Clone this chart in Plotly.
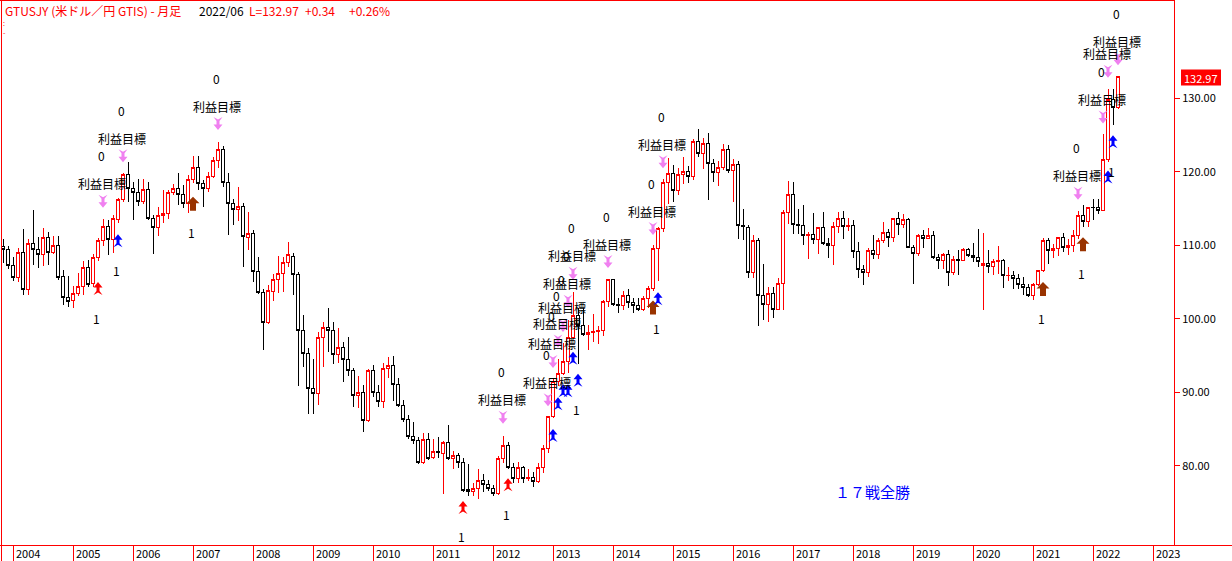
import pandas as pd
import plotly.graph_objects as go

# monthly candles GTUSJY, 2003/11 .. 2022/06
start_month = "2003-11"
end_month = "2022-06"

opens = [
    109.8, 109.5,
    107.2, 105.6, 109.0, 104.0, 110.2, 109.5, 108.7, 111.0, 109.0, 110.0, 105.7, 102.9,
    102.5, 103.5, 104.4, 107.0, 104.8, 108.3, 110.6, 112.5, 110.8, 113.5, 116.2, 119.6,
    117.8, 117.2, 115.9, 117.6, 113.6, 112.4, 114.1, 114.4, 117.2, 117.8, 116.9, 115.7,
    118.9, 120.6, 118.4, 117.7, 119.4, 121.6, 123.1, 118.5, 115.7, 114.9, 115.3, 111.0,
    111.6, 106.4, 103.6, 99.5, 103.7, 105.4, 106.1, 107.7, 108.5, 106.0, 98.4, 95.3,
    90.5, 89.8, 97.5, 98.8, 98.4, 95.2, 96.1, 94.5, 93.0, 89.6, 90.0, 86.2,
    92.9, 89.9, 88.8, 93.2, 93.7, 91.1, 88.2, 86.3, 84.0, 83.4, 80.4, 83.5,
    81.1, 81.9, 81.7, 83.1, 81.0, 81.4, 80.4, 76.7, 76.5, 76.9, 78.0, 77.5,
    76.9, 76.2, 81.0, 82.8, 79.7, 78.2, 79.7, 78.2, 78.4, 77.9, 79.7, 82.4,
    86.7, 91.5, 92.5, 94.2, 97.5, 100.5, 99.1, 97.9, 98.1, 98.3, 98.4, 102.4,
    105.3, 102.0, 101.8, 103.2, 102.2, 101.8, 101.3, 102.8, 104.1, 109.6, 112.3, 118.6,
    119.8, 117.5, 119.6, 120.1, 119.4, 124.1, 122.5, 123.9, 121.2, 119.9, 120.6, 123.1,
    120.2, 121.0, 112.7, 112.4, 106.3, 110.7, 103.2, 102.0, 103.4, 101.3, 104.8, 114.5,
    116.9, 112.8, 112.7, 111.4, 111.5, 110.8, 112.4, 110.3, 110.0, 112.5, 113.6, 112.5,
    112.7, 109.2, 106.7, 106.3, 109.3, 108.8, 110.7, 111.8, 111.0, 113.7, 112.9, 113.5,
    109.7, 108.9, 111.4, 110.9, 111.4, 108.3, 107.9, 108.7, 106.3, 108.1, 108.0, 109.5,
    108.6, 108.4, 107.3, 107.5, 107.1, 107.8, 107.9, 105.85, 105.9, 105.5, 104.6, 104.3,
    103.2, 104.7, 106.6, 110.7, 109.3, 109.6, 111.0, 109.7, 110.0, 111.3, 114.0, 113.2,
    115.15, 115.1, 114.8, 121.7, 129.8, 128.7,
]
highs = [
    110.8, 109.9,
    108.4, 109.7, 112.2, 110.8, 114.8, 111.2, 112.3, 111.8, 111.3, 111.3, 106.6, 105.8,
    104.5, 106.2, 107.9, 108.0, 108.8, 111.0, 113.6, 113.4, 114.1, 116.4, 119.9, 121.4,
    118.6, 119.0, 119.0, 118.6, 114.1, 115.2, 117.5, 117.5, 118.4, 119.9, 118.2, 119.6,
    122.2, 122.2, 118.9, 120.0, 122.0, 124.1, 123.5, 119.8, 116.3, 117.9, 115.7, 114.6,
    112.1, 108.4, 104.0, 104.6, 106.1, 108.5, 108.4, 110.5, 109.0, 106.4, 100.5, 96.0,
    94.5, 98.2, 99.6, 101.4, 99.5, 98.8, 96.9, 97.5, 93.3, 92.2, 91.0, 93.1,
    93.7, 91.0, 94.0, 94.8, 94.9, 92.0, 89.0, 86.9, 85.9, 83.9, 84.4, 84.4,
    83.6, 83.9, 83.3, 85.5, 82.0, 81.7, 81.0, 80.2, 77.6, 79.5, 78.9, 78.1,
    77.4, 81.3, 84.1, 83.2, 80.4, 80.5, 79.9, 79.6, 79.2, 80.4, 82.8, 86.8,
    91.8, 94.5, 96.7, 99.9, 103.7, 101.5, 101.5, 99.2, 100.6, 99.0, 102.6, 105.4,
    105.4, 102.8, 103.8, 104.1, 102.8, 102.8, 103.1, 104.5, 110.1, 112.5, 119.0, 121.85,
    121.0, 120.5, 122.0, 120.8, 124.5, 125.9, 124.6, 125.3, 121.7, 121.5, 123.8, 123.7,
    121.7, 121.5, 114.9, 112.7, 111.4, 111.0, 107.5, 104.3, 104.3, 105.5, 114.8, 118.7,
    118.6, 115.0, 115.5, 111.8, 114.4, 112.5, 114.5, 111.0, 113.2, 114.5, 114.7, 113.75,
    113.4, 110.5, 107.3, 109.6, 111.4, 111.0, 113.2, 112.2, 113.7, 114.55, 114.2, 113.7,
    110.0, 111.5, 112.1, 112.4, 112.0, 108.8, 109.0, 109.3, 108.5, 109.3, 109.7, 109.7,
    110.3, 112.2, 111.7, 109.4, 108.1, 109.85, 108.2, 107.05, 106.55, 106.1, 105.7, 104.75,
    104.9, 106.7, 110.97, 110.97, 110.2, 111.1, 111.7, 110.8, 112.1, 114.7, 115.5, 115.2,
    116.35, 116.3, 125.1, 131.25, 131.35, 133.1,
]
lows = [
    107.6, 106.8,
    105.1, 105.0, 103.2, 103.3, 107.3, 106.9, 107.2, 107.3, 108.8, 105.3, 101.9, 101.6,
    101.4, 103.1, 103.2, 104.3, 104.3, 107.9, 109.9, 108.7, 109.0, 113.0, 115.9, 115.9,
    113.4, 115.3, 115.6, 113.5, 108.8, 111.3, 113.1, 113.6, 116.8, 115.5, 115.1, 114.4,
    118.5, 117.6, 115.2, 117.2, 119.1, 120.5, 118.0, 111.4, 112.8, 113.3, 107.0, 109.4,
    105.0, 103.4, 95.8, 99.3, 102.4, 103.5, 103.6, 107.1, 103.3, 90.8, 93.4, 87.1,
    87.1, 88.3, 93.4, 95.5, 93.9, 94.0, 91.4, 92.2, 88.0, 87.8, 84.6, 86.0,
    89.3, 88.0, 87.9, 92.0, 88.8, 88.0, 85.9, 83.6, 82.9, 80.2, 80.2, 80.8,
    80.9, 81.0, 76.2, 80.8, 79.6, 79.7, 76.4, 75.9, 75.9, 75.5, 76.4, 76.6,
    75.9, 76.0, 80.4, 79.5, 77.7, 77.6, 77.6, 77.9, 77.1, 77.6, 79.0, 81.7,
    86.5, 90.9, 92.4, 92.6, 97.3, 93.8, 97.6, 95.8, 96.9, 96.6, 97.6, 101.6,
    101.8, 100.8, 101.2, 101.4, 100.8, 101.1, 101.1, 101.5, 103.8, 105.2, 111.8, 115.6,
    115.9, 116.9, 118.3, 118.5, 118.9, 122.0, 120.4, 116.2, 118.6, 118.1, 120.2, 119.9,
    115.9, 110.9, 110.7, 105.5, 105.5, 99.0, 99.9, 99.5, 100.1, 101.2, 101.2, 112.9,
    111.6, 111.6, 110.1, 108.1, 110.2, 108.8, 110.0, 108.3, 107.3, 111.7, 110.8, 111.9,
    108.3, 105.6, 104.6, 105.7, 108.1, 108.1, 110.3, 109.8, 110.4, 111.4, 112.3, 109.6,
    104.7, 108.5, 109.7, 110.8, 108.2, 106.8, 106.8, 104.5, 105.9, 105.9, 107.9, 108.4,
    107.7, 107.0, 101.2, 106.3, 106.0, 106.1, 104.2, 105.1, 104.0, 104.0, 103.2, 102.9,
    102.6, 104.4, 106.4, 107.5, 108.3, 108.6, 109.1, 108.7, 109.1, 110.8, 112.5, 112.5,
    113.5, 114.2, 114.65, 121.3, 126.4, 128.6,
]
closes = [
    109.5, 107.2,
    105.6, 109.0, 104.0, 110.2, 109.5, 108.7, 111.1, 109.0, 110.0, 105.6, 102.9, 102.4,
    103.5, 104.4, 107.0, 104.6, 108.3, 110.6, 112.5, 110.8, 113.6, 116.2, 119.6, 117.7,
    117.2, 115.9, 117.6, 113.6, 112.4, 114.1, 114.4, 117.2, 117.8, 116.9, 115.7, 118.9,
    120.6, 118.4, 117.7, 119.4, 121.6, 123.1, 118.5, 115.7, 114.9, 115.3, 111.2, 111.6,
    106.4, 103.6, 99.5, 103.8, 105.4, 106.1, 107.7, 108.7, 106.0, 98.4, 95.3, 90.5,
    89.8, 97.5, 98.8, 98.4, 95.2, 96.1, 94.5, 93.0, 89.6, 90.0, 86.2, 92.9,
    90.0, 88.8, 93.2, 93.7, 91.1, 88.2, 86.3, 84.0, 83.4, 80.4, 83.5, 81.0,
    81.9, 81.8, 83.1, 81.0, 81.4, 80.4, 76.6, 76.5, 76.9, 78.0, 77.5, 76.9,
    76.2, 81.0, 82.8, 79.7, 78.2, 79.7, 78.2, 78.4, 77.9, 79.7, 82.4, 86.7,
    91.5, 92.5, 94.2, 97.5, 100.5, 99.1, 97.9, 98.1, 98.3, 98.4, 102.4, 105.3,
    102.0, 101.8, 103.2, 102.2, 101.8, 101.3, 102.8, 104.1, 109.6, 112.3, 118.6, 119.8,
    117.5, 119.6, 120.1, 119.4, 124.1, 122.5, 123.9, 121.2, 119.9, 120.6, 123.1, 120.2,
    121.0, 112.7, 112.5, 106.3, 110.7, 103.2, 102.0, 103.4, 101.3, 104.8, 114.5, 116.9,
    112.8, 112.7, 111.4, 111.5, 110.8, 112.4, 110.3, 110.0, 112.5, 113.6, 112.5, 112.7,
    109.2, 106.7, 106.3, 109.3, 108.8, 110.7, 111.8, 111.0, 113.7, 112.9, 113.5, 109.7,
    108.9, 111.4, 110.9, 111.4, 108.3, 107.9, 108.7, 106.3, 108.1, 108.0, 109.5, 108.6,
    108.4, 107.8, 107.5, 107.1, 107.8, 107.9, 105.9, 105.9, 105.5, 104.6, 104.3, 103.2,
    104.7, 106.6, 110.7, 109.3, 109.6, 111.0, 109.7, 110.0, 111.3, 114.0, 113.2, 115.1,
    115.1, 114.8, 121.7, 129.8, 128.7, 132.97,
]

# entry signals (up arrows) and take-profit signals (down arrows)
entry_months = ["2005-06", "2005-10", "2007-01", "2011-07", "2012-04", "2013-01",
                "2013-02", "2013-03", "2013-04", "2013-05", "2013-06", "2014-09",
                "2014-10", "2021-03", "2021-11", "2022-04", "2022-05"]
entry_prices = [105.0, 111.5, 116.6, 75.2, 78.3, 85.0, 89.3, 91.1, 91.1, 95.5,
                92.5, 102.5, 103.6, 105.0, 111.1, 120.2, 125.0]
entry_kinds = ["red", "blue", "brown", "red", "red", "blue", "blue", "blue", "blue",
               "blue", "blue", "brown", "blue", "brown", "brown", "blue", "blue"]
entry_counts = ["1", "1", "1", "1", "1", "", "", "", "", "", "1", "", "1", "1", "1", "", "1"]

tp_months = ["2005-07", "2005-11", "2007-06", "2012-03", "2012-12", "2013-01",
             "2013-02", "2013-03", "2013-04", "2013-05", "2013-12", "2014-09",
             "2014-11", "2021-10", "2022-03", "2022-04", "2022-06"]
tp_prices = [115.1, 121.3, 125.7, 85.7, 88.1, 93.3, 96.1, 98.2, 101.5, 105.3,
             106.9, 111.4, 120.5, 116.2, 126.6, 132.8, 134.5]
tp_counts = ["0"] * 15 + ["", "0"]
tp_label = "利益目標"

years = list(range(2004, 2024))
price_ticks = [80, 90, 100, 110, 120, 130]
last_price = 132.97
summary_text = "１７戦全勝"

title_parts = [
    ("GTUSJY (米ドル／円 GTIS) - 月足", 3, "#FF0000"),
    ("2022/06", 197, "black"),
    ("L=132.97", 247, "#FF0000"),
    ("+0.34", 303, "#FF0000"),
    ("+0.26%", 347, "#FF0000"),
]

# ---- layout geometry ----
W, H = 1232, 561
ML, MR, MT, MB = 2, 58, 0, 16
PW, PH = W - ML - MR, H - MT - MB
RED = "#FF0000"
FONT = "Noto Sans CJK JP"

COLORS = {"red": "#FF0000", "blue": "#0000FF", "brown": "#993300", "pink": "#F080F0"}

ARROW_UP = ("M0,0 L4.5,-5.5 L1.5,-5.5 L1.5,-9 L4.5,-13 L0,-10.5 L-4.5,-13 "
            "L-1.5,-9 L-1.5,-5.5 L-4.5,-5.5 Z")
ARROW_DOWN = ("M0,0 L4.5,5.5 L1.5,5.5 L1.5,9 L4.5,13 L0,10.5 L-4.5,13 "
              "L-1.5,9 L-1.5,5.5 L-4.5,5.5 Z")
ARROW_BIG = "M0,0 L6.5,-6.5 L3,-6.5 L3,-14 L-3,-14 L-3,-6.5 L-6.5,-6.5 Z"


def paper_x(px):
    return (px - ML) / PW


def paper_y(py):
    return 1 - (py - MT) / PH


months = pd.period_range(start_month, end_month, freq="M")
first = months[0]


def month_pos(label):
    return (pd.Period(label, freq="M") - first).n


idx = list(range(len(months)))
year_pos = [month_pos(f"{y}-01") for y in years]

fig = go.Figure()
fig.add_trace(
    go.Candlestick(
        x=idx,
        open=opens,
        high=highs,
        low=lows,
        close=closes,
        increasing=dict(line=dict(color=RED, width=1), fillcolor="white"),
        decreasing=dict(line=dict(color="black", width=1), fillcolor="white"),
        whiskerwidth=0,
        showlegend=False,
        hoverinfo="skip",
    )
)

shapes = []
annotations = []

# entries
for m, p, kind, cnt in zip(entry_months, entry_prices, entry_kinds, entry_counts):
    i = month_pos(m)
    shapes.append(dict(
        type="path", xref="x", yref="y", xsizemode="pixel", ysizemode="pixel",
        xanchor=i, yanchor=p, path=ARROW_BIG if kind == "brown" else ARROW_UP,
        fillcolor=COLORS[kind], line=dict(width=0), layer="above",
    ))
    if cnt:
        annotations.append(dict(
            x=i, y=p, xref="x", yref="y", text=cnt, showarrow=False,
            xanchor="center", yanchor="middle",
            xshift=-1.5, yshift=-36, font=dict(family=FONT, size=12, color="black"),
        ))

# take profits
for m, p, cnt in zip(tp_months, tp_prices, tp_counts):
    i = month_pos(m)
    shapes.append(dict(
        type="path", xref="x", yref="y", xsizemode="pixel", ysizemode="pixel",
        xanchor=i, yanchor=p, path=ARROW_DOWN,
        fillcolor=COLORS["pink"], line=dict(width=0), layer="above",
    ))
    annotations.append(dict(
        x=i, y=p, xref="x", yref="y", text=tp_label, showarrow=False,
        xanchor="center", yanchor="middle",
        xshift=-1.5, yshift=24, font=dict(family=FONT, size=12, color="black"),
    ))
    if cnt:
        annotations.append(dict(
            x=i, y=p, xref="x", yref="y", text=cnt, showarrow=False,
            xanchor="center", yanchor="middle",
            xshift=-1.5, yshift=52, font=dict(family=FONT, size=12, color="black"),
        ))

# year labels to the right of the red ticks
for y, pos in zip(years, year_pos):
    annotations.append(dict(
        x=pos, y=0, xref="x", yref="paper", text=str(y), showarrow=False,
        xanchor="left", yanchor="middle", xshift=1, yshift=-8,
        font=dict(family=FONT, size=11, color="black"),
    ))

# title line
for text, px, color in title_parts:
    annotations.append(dict(
        x=paper_x(px), y=paper_y(10), xref="paper", yref="paper", text=text,
        showarrow=False, xanchor="left", yanchor="middle",
        font=dict(family=FONT, size=12, color=color),
    ))
# two small red marks under the title
annotations.append(dict(x=paper_x(2), y=paper_y(23), xref="paper", yref="paper", text=":",
                        showarrow=False, xanchor="left", yanchor="middle", borderpad=0,
                        font=dict(family=FONT, size=7, color=RED)))
annotations.append(dict(x=paper_x(2), y=paper_y(32), xref="paper", yref="paper", text="-",
                        showarrow=False, xanchor="left", yanchor="middle", borderpad=0,
                        font=dict(family=FONT, size=7, color=RED)))

# summary text
annotations.append(dict(
    x=paper_x(872), y=paper_y(491), xref="paper", yref="paper", text=summary_text,
    showarrow=False, xanchor="center", yanchor="middle",
    font=dict(family=FONT, size=15, color="#0000FF"),
))

# last price box on the axis
shapes.append(dict(
    type="rect", xref="paper", yref="y", ysizemode="pixel", yanchor=last_price,
    x0=paper_x(1181), x1=paper_x(1221), y0=-9, y1=7,
    fillcolor=RED, line=dict(width=0), layer="above",
))
annotations.append(dict(
    x=paper_x(1201), y=last_price, xref="paper", yref="y", text=f"{last_price:.2f}",
    showarrow=False, xanchor="center", yanchor="middle", yshift=-1,
    font=dict(family=FONT, size=11, color="white"),
))

# frame lines
shapes += [
    dict(type="line", xref="paper", yref="paper", x0=paper_x(0), x1=paper_x(W),
         y0=paper_y(545.5), y1=paper_y(545.5), line=dict(color=RED, width=1)),
    dict(type="line", xref="paper", yref="paper", x0=paper_x(1.5), x1=paper_x(1.5),
         y0=paper_y(0), y1=paper_y(H), line=dict(color=RED, width=1)),
    dict(type="line", xref="paper", yref="paper", x0=paper_x(0), x1=paper_x(1174),
         y0=paper_y(0.5), y1=paper_y(0.5), line=dict(color=RED, width=1)),
]

fig.update_layout(
    width=W,
    height=H,
    margin=dict(l=ML, r=MR, t=MT, b=MB, pad=0),
    paper_bgcolor="white",
    plot_bgcolor="white",
    showlegend=False,
    boxgap=0.4,
    boxgroupgap=0,
    shapes=shapes,
    annotations=annotations,
    xaxis=dict(
        range=[-0.2, -0.2 + PW / 5],
        rangeslider=dict(visible=False),
        tickvals=year_pos,
        showticklabels=False,
        ticks="outside",
        ticklen=16,
        tickcolor=RED,
        tickwidth=1,
        showgrid=False,
        zeroline=False,
        showline=False,
        fixedrange=True,
    ),
    yaxis=dict(
        side="right",
        range=[69.2, 143.4],
        tickvals=price_ticks,
        ticktext=[f"{v:.2f}" for v in price_ticks],
        ticks="outside",
        ticklen=5,
        tickcolor=RED,
        tickfont=dict(family=FONT, size=11, color="black"),
        showline=True,
        linecolor=RED,
        linewidth=1,
        showgrid=False,
        zeroline=False,
        fixedrange=True,
    ),
)

# page without body margin, candles drawn with crisp 1px edges like the bitmap original
post_js = (
    "document.body.style.margin='0';"
    "var s=document.createElement('style');"
    "s.textContent='.boxlayer path{shape-rendering:crispEdges}';"
    "document.head.appendChild(s);"
)

fig.write_html("out.html", config={"displayModeBar": False}, post_script=post_js)
